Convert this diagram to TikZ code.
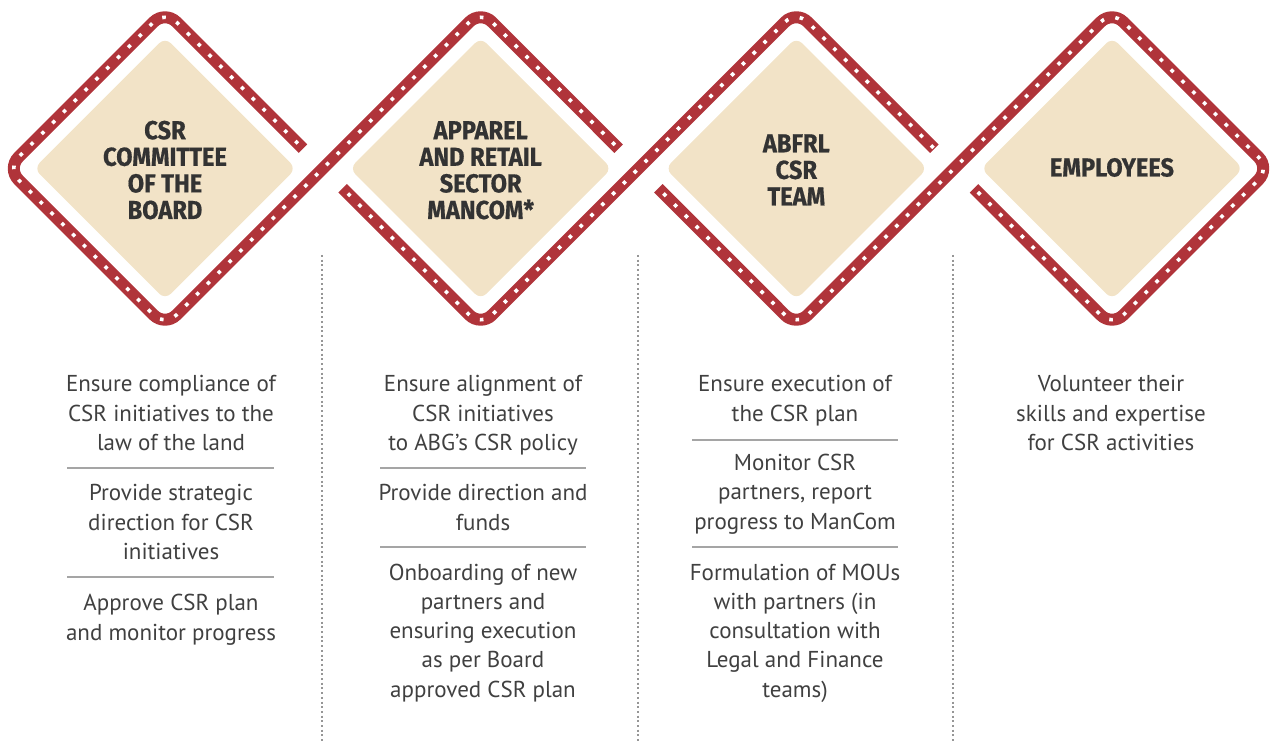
\documentclass[tikz,border=0pt]{standalone}
\usepackage{fontspec}
\setmainfont{PT Sans}
\newfontfamily\titlefont[FakeStretch=0.91, FakeBold=0.6]{Fira Sans}
\definecolor{bandred}{RGB}{176,52,58}
\definecolor{beige}{RGB}{242,227,199}
\definecolor{bodygrey}{RGB}{64,64,64}
\definecolor{titlegrey}{RGB}{51,51,51}
\definecolor{rulegrey}{RGB}{165,165,165}
\definecolor{dotgrey}{RGB}{150,150,150}
\begin{document}
\begin{tikzpicture}[x=1pt,y=-1pt,
  band/.style={draw=bandred, line width=12pt, rounded corners=16pt, line cap=butt},
  holes/.style={draw=white, line width=3.6pt, rounded corners=16pt, line cap=butt, dash pattern=on 3.6pt off 11.7pt, dash phase=8pt},
  inner/.style={fill=beige, rounded corners=8pt},
  title/.style={font=\titlefont\bfseries\fontsize{26}{26.6}\selectfont, text=titlegrey, align=center, inner sep=0pt, anchor=base},
  body/.style={font=\fontsize{23}{29.3}\selectfont, text=bodygrey, align=center, inner sep=0pt, anchor=base},
  rule/.style={draw=rulegrey, line width=2pt},
  dotline/.style={draw=dotgrey, line width=2pt, dash pattern=on 2pt off 2.7pt}]
\useasboundingbox (0,0) rectangle (1271,743);
% band vertices
\coordinate (d1ur) at (303,148.7);
\coordinate (d1t) at (165,10.67);
\coordinate (d1l) at (7.17,168.5);
\coordinate (d1b) at (165,326.33);
\coordinate (d2t) at (480.67,10.67);
\coordinate (d2ur) at (618.67,148.7);
\coordinate (d2ll) at (342.67,188.3);
\coordinate (d2b) at (480.67,326.33);
\coordinate (d3t) at (796.33,10.67);
\coordinate (d3ur) at (934.33,148.7);
\coordinate (d3ll) at (658.33,188.3);
\coordinate (d3b) at (796.33,326.33);
\coordinate (d4t) at (1112,10.67);
\coordinate (d4r) at (1269.83,168.5);
\coordinate (d4b) at (1112,326.33);
\coordinate (d4ll) at (974,188.3);
% beige inner diamonds
\foreach \cx in {165,480.67,796.33,1112}{
  \fill[inner] (\cx+65.5,103) -- (\cx+131,168.5) -- (\cx,299.5) -- (\cx-131,168.5) -- (\cx,37.5) -- cycle;
}
% red bands
\draw[band] (d1ur) -- (d1t) -- (d1l) -- (d1b) -- (d2t) -- (d2ur);
\draw[holes] (d1ur) -- (d1t) -- (d1l) -- (d1b) -- (d2t) -- (d2ur);
\draw[band] (d2ll) -- (d2b) -- (d3t) -- (d3ur);
\draw[holes] (d2ll) -- (d2b) -- (d3t) -- (d3ur);
\draw[band] (d3ll) -- (d3b) -- (d4t) -- (d4r) -- (d4b) -- (d4ll);
\draw[holes] (d3ll) -- (d3b) -- (d4t) -- (d4r) -- (d4b) -- (d4ll);
% titles (base anchor = last line baseline)
\node[title] (t1) at (165,219) {CSR\\COMMITTEE\\OF THE\\BOARD};
\node[title] (t2) at (480.67,219) {APPAREL\\AND RETAIL\\SECTOR\\MANCOM*};
\node[title] (t3) at (796.33,205.5) {ABFRL\\CSR\\TEAM};
\node[title] (t4) at (1112,176.5) {EMPLOYEES};
% column dividers
\draw[dotline] (322,255) -- (322,743);
\draw[dotline] (638,255) -- (638,743);
\draw[dotline] (953,255) -- (953,743);
% column 1
\node[body] (a1) at (171,450.3) {Ensure compliance of\\CSR initiatives to the\\law of the land};
\draw[rule] (67,468.3) -- (274,468.3);
\node[body] (a2) at (171,559.3) {Provide strategic\\direction for CSR\\initiatives};
\draw[rule] (67,577.3) -- (274,577.3);
\node[body] (a3) at (171,640) {Approve CSR plan\\and monitor progress};
% column 2
\node[body] (b1) at (483,450.3) {Ensure alignment of\\CSR initiatives\\to ABG's CSR policy};
\draw[rule] (380,468.3) -- (586,468.3);
\node[body] (b2) at (483,530) {Provide direction and\\funds};
\draw[rule] (380,547.3) -- (586,547.3);
\node[body] (b3) at (483,697.2) {Onboarding of new\\partners and\\ensuring execution\\as per Board\\approved CSR plan};
% column 3
\node[body] (c1) at (795,421) {Ensure execution of\\the CSR plan};
\draw[rule] (692,440) -- (898,440);
\node[body] (c2) at (795,529) {Monitor CSR\\partners, report\\progress to ManCom};
\draw[rule] (692,547.3) -- (898,547.3);
\node[body] (c3) at (795,697.2) {Formulation of MOUs\\with partners (in\\consultation with\\Legal and Finance\\teams)};
% column 4
\node[body] (e1) at (1111,450.3) {Volunteer their\\skills and expertise\\for CSR activities};
\end{tikzpicture}
\end{document}
